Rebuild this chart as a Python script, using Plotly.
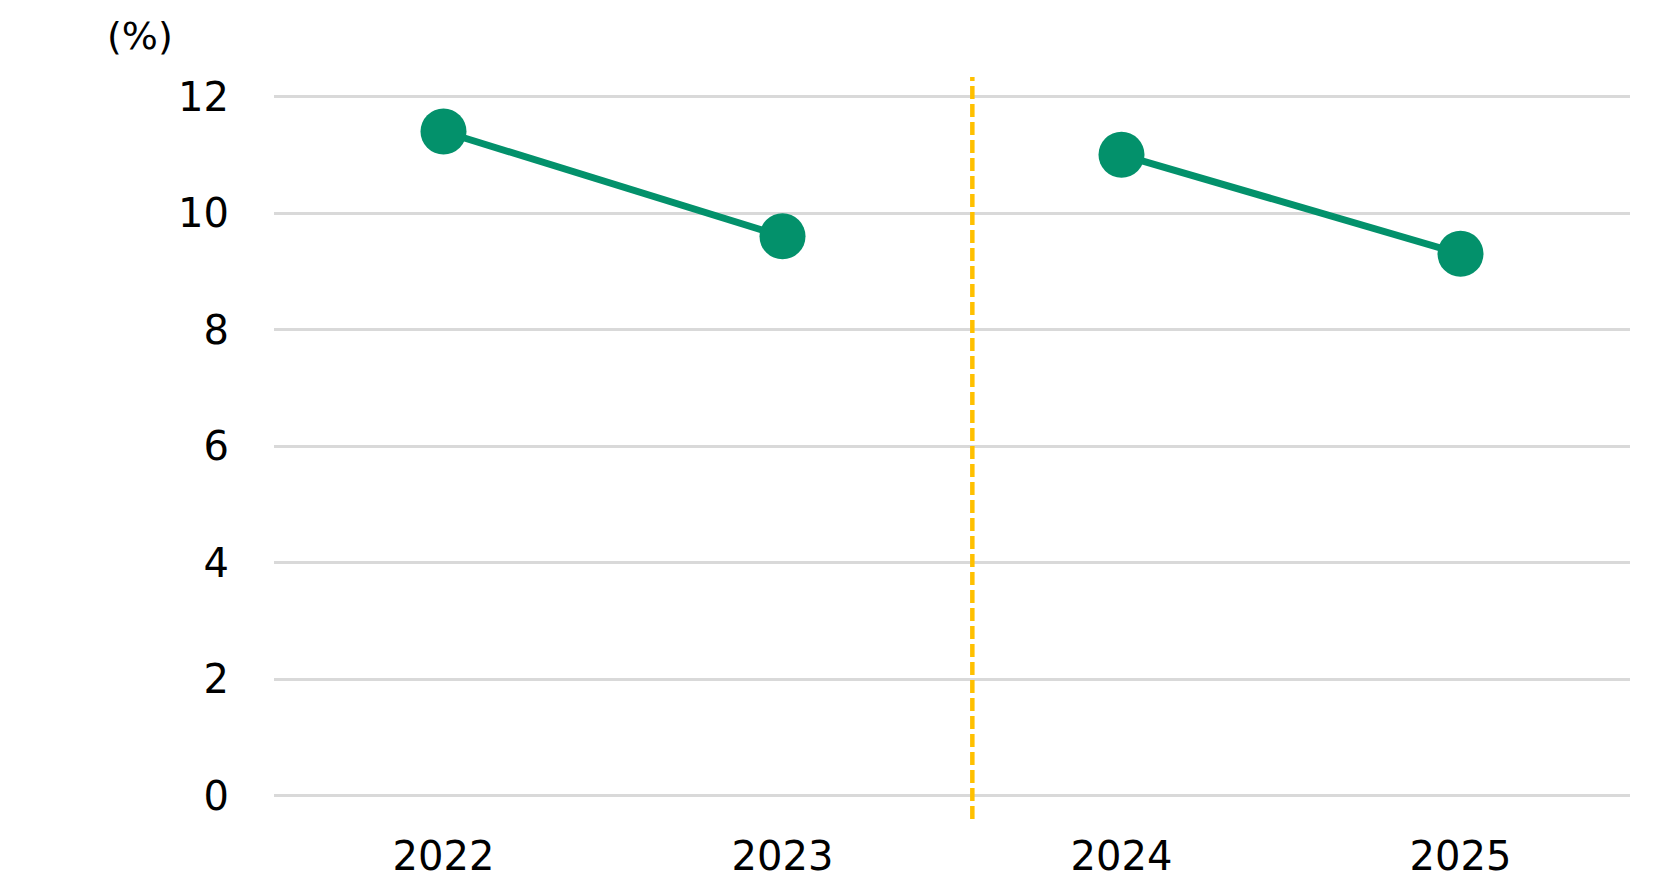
import plotly.graph_objects as go

years = ["2022", "2023", "2024", "2025"]
values = [11.4, 9.6, 11.0, 9.3]
y_ticks = [0, 2, 4, 6, 8, 10, 12]
unit_label = "(%)"

GREEN = "#03916B"
FONT = "DejaVu Sans, Verdana, sans-serif"

fig = go.Figure()
# two separate segments: 2022-2023 and 2024-2025
for sl in (slice(0, 2), slice(2, 4)):
    fig.add_trace(go.Scatter(x=years[sl], y=values[sl], mode="lines+markers",
                             line=dict(color=GREEN, width=7),
                             marker=dict(color=GREEN, size=46), hoverinfo="x+y"))

fig.add_shape(type="line", xref="x", yref="paper", x0=1.56, x1=1.56, y0=0, y1=1,
              line=dict(color="#FFC000", width=4.5, dash="13px,5px"))

fig.add_annotation(text=unit_label, xref="paper", yref="paper", x=-0.099, y=1.055,
                   showarrow=False, font=dict(family=FONT, size=38, color="#000000"),
                   xanchor="center", yanchor="middle")

fig.update_layout(
    width=1673, height=894,
    margin=dict(l=266, r=51, t=69, b=83),
    paper_bgcolor="white", plot_bgcolor="white",
    showlegend=False,
    font=dict(family=FONT, size=40, color="#000000"),
    xaxis=dict(type="category", categoryorder="array", categoryarray=years,
               range=[-0.5, 3.5], showgrid=False, zeroline=False, showline=False,
               ticks="", ticklabelstandoff=10,
               tickfont=dict(family=FONT, size=40, color="#000000")),
    yaxis=dict(range=[-0.40, 12.335], tickvals=y_ticks, ticktext=[str(v) for v in y_ticks],
               showgrid=True, gridcolor="#D9D9D9", gridwidth=2.5, zeroline=False,
               showline=False, ticks="", ticklabelstandoff=44,
               tickfont=dict(family=FONT, size=40, color="#000000")),
)

fig.write_html("out.html")
